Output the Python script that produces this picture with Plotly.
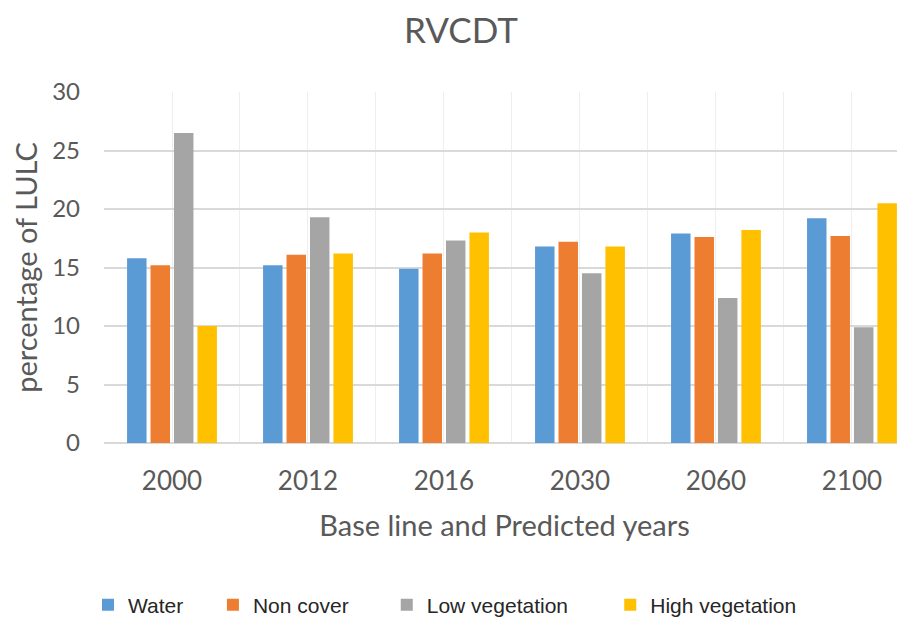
import plotly.graph_objects as go

years = ["2000", "2012", "2016", "2030", "2060", "2100"]
water = [15.8, 15.2, 14.9, 16.8, 17.9, 19.2]
non_cover = [15.2, 16.1, 16.2, 17.2, 17.6, 17.7]
low_veg = [26.5, 19.3, 17.3, 14.5, 12.4, 9.9]
high_veg = [10.0, 16.2, 18.0, 16.8, 18.2, 20.5]
y_ticks = [0, 5, 10, 15, 20, 25, 30]

series = [
    ("Water", water, "#5B9BD5"),
    ("Non cover", non_cover, "#ED7D31"),
    ("Low vegetation", low_veg, "#A5A5A5"),
    ("High vegetation", high_veg, "#FFC000"),
]
legend_x = [-0.020, 0.136, 0.353, 0.632]

xpos = list(range(len(years)))
fig = go.Figure()
legend_layouts = {}
for i, (name, vals, color) in enumerate(series):
    key = "legend" if i == 0 else f"legend{i + 1}"
    fig.add_trace(go.Bar(x=xpos, y=vals, name=name, marker_color=color,
                         marker_line_width=0, legend=key))
    legend_layouts[key] = dict(
        orientation="h", x=legend_x[i], xanchor="left", y=-0.462, yanchor="middle",
        font=dict(family="Liberation Sans, Arial, sans-serif", size=21, color="#262626"),
        itemwidth=30, bgcolor="rgba(0,0,0,0)", borderwidth=0,
    )

fig.update_layout(
    width=897, height=611,
    paper_bgcolor="white", plot_bgcolor="white",
    margin=dict(l=96, r=0, t=84, b=176, autoexpand=False),
    barmode="group", bargap=0.31, bargroupgap=0.17,
    title=dict(text="RVCDT", x=0.505, xanchor="center", y=0.962, yanchor="middle",
               font=dict(family="Lato, Open Sans, sans-serif", size=35, color="#595959")),
    font=dict(family="Lato, Open Sans, sans-serif", color="#595959"),
    showlegend=True,
    **legend_layouts,
)
fig.update_xaxes(
    range=[-0.5, 5.39],
    tickmode="array", tickvals=xpos, ticktext=years,
    tickfont=dict(size=26, color="#595959"),
    ticks="", ticklabelstandoff=20,
    showgrid=True, gridcolor="#EEEEEE", gridwidth=1,
    minor=dict(tickmode="linear", tick0=-0.5, dtick=1, showgrid=True, gridcolor="#EEEEEE", gridwidth=1),
    showline=False, zeroline=False,
    title=dict(text="Base line and Predicted years", font=dict(size=29, color="#595959"), standoff=20),
)
fig.update_yaxes(
    range=[0, 30], tickmode="array", tickvals=y_ticks,
    tickfont=dict(size=24, color="#595959"),
    ticklabelstandoff=23,
    showgrid=True, gridcolor="#D9D9D9", gridwidth=1.5,
    zeroline=True, zerolinecolor="#D9D9D9", zerolinewidth=1.5,
    showline=False,
    title=dict(text="percentage of LULC", font=dict(size=29, color="#595959"), standoff=6),
)

fig.write_html("out.html")
